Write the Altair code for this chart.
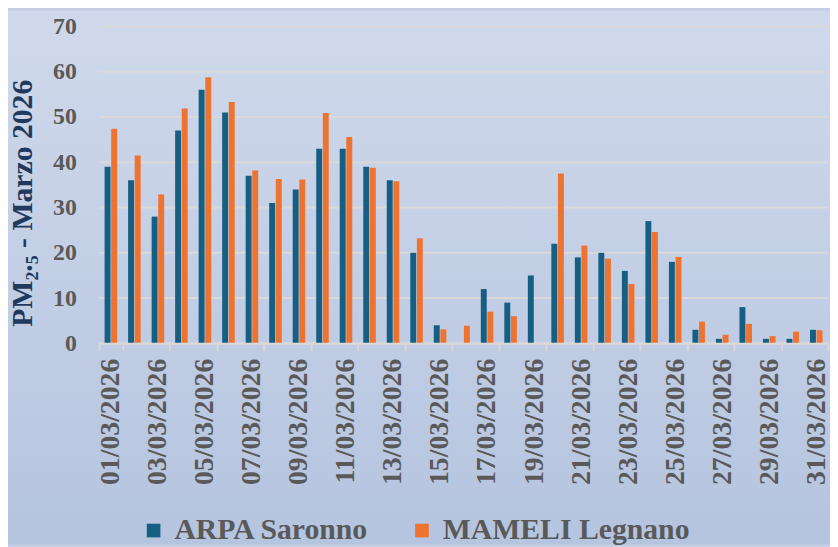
import altair as alt
import pandas as pd

dates = [f"{d:02d}/03/2026" for d in range(1, 32)]
label_dates = dates[::2]
series_names = ["ARPA Saronno", "MAMELI Legnano"]
arpa = [39, 36, 28, 47, 56, 51, 37, 31, 34, 43, 43, 39, 36, 20, 4, None,
        12, 9, 15, 22, 19, 20, 16, 27, 18, 3, 1, 8, 1, 1, 3]
mameli = [47.4, 41.5, 32.9, 51.9, 58.8, 53.3, 38.2, 36.3, 36.2, 50.9, 45.6,
          38.8, 35.8, 23.2, 3.1, 3.9, 7.0, 6.0, None, 37.5, 21.6, 18.7, 13.1,
          24.6, 19.1, 4.8, 1.9, 4.3, 1.6, 2.6, 2.9]
y_ticks = [0, 10, 20, 30, 40, 50, 60, 70]
colors = ["#175f82", "#ee7330"]

rows = []
for i, d in enumerate(dates):
    rows.append({"date": d, "series": series_names[0], "value": arpa[i]})
    rows.append({"date": d, "series": series_names[1], "value": mameli[i]})
df = pd.DataFrame(rows)

FONT = "Liberation Serif"
W, H = 736, 320

bg = alt.Chart(alt.Data(values=[{}])).mark_rect(
    fill=alt.LinearGradient(
        gradient="linear",
        stops=[alt.GradientStop(color="#d0d9eb", offset=0),
               alt.GradientStop(color="#b5c4df", offset=1)],
        x1=0, x2=0, y1=0, y2=1),
    clip=False,
).encode(x=alt.value(-92), x2=alt.value(W + 2), y=alt.value(-16), y2=alt.value(H + 203))

grid = alt.Chart(pd.DataFrame({"v": y_ticks})).mark_rule(
    color="#d9d9d9", strokeWidth=2
).encode(y=alt.Y("v:Q"))

bars = alt.Chart(df).mark_bar(size=6).encode(
    x=alt.X("date:N", sort=dates, title=None,
            scale=alt.Scale(paddingInner=0, paddingOuter=0),
            axis=alt.Axis(values=label_dates, labelAngle=-90, tickBand="extent",
                          domainColor="#d9d9d9", domainWidth=2,
                          tickColor="#d9d9d9", tickWidth=2, tickSize=7,
                          labelPadding=8, labelFont=FONT, labelFontSize=28,
                          labelFontWeight="bold", labelColor="#595959", zindex=1)),
    xOffset=alt.XOffset("series:N", sort=series_names,
                        scale=alt.Scale(paddingInner=0.1, paddingOuter=0.83)),
    y=alt.Y("value:Q", scale=alt.Scale(domain=[0, 70]),
            title="PM₂.₅ - Marzo 2026",
            axis=alt.Axis(values=y_ticks, grid=False, domain=False, ticks=False,
                          labelPadding=23, labelFont=FONT, labelFontSize=24,
                          labelFontWeight="bold", labelColor="#595959",
                          titleFont=FONT, titleFontSize=30, titleFontWeight="bold",
                          titleColor="#1f3a5c", titleX=-62, titleY=178, zindex=1)),
    color=alt.Color("series:N", sort=series_names,
                    scale=alt.Scale(domain=series_names, range=colors),
                    legend=alt.Legend(title=None, orient="none", direction="horizontal",
                                      legendX=40, legendY=494, symbolType="square",
                                      symbolSize=190, symbolStrokeWidth=0,
                                      labelFont=FONT, labelFontSize=30,
                                      labelFontWeight="bold", labelColor="#595959",
                                      labelLimit=500, columnPadding=38,
                                      labelOffset=6, padding=0)),
)

chart = alt.layer(bg, grid, bars).properties(
    width=W, height=H,
    padding={"left": 92, "right": 2, "top": 16, "bottom": 203},
    autosize=alt.AutoSizeParams(type="none"),
).configure(background="#c4cfe5", font=FONT).configure_view(stroke=None).configure_legend(
    labelFont=FONT, labelLimit=500)

chart.save("out.html", embed_options={"renderer": "svg", "actions": False})
